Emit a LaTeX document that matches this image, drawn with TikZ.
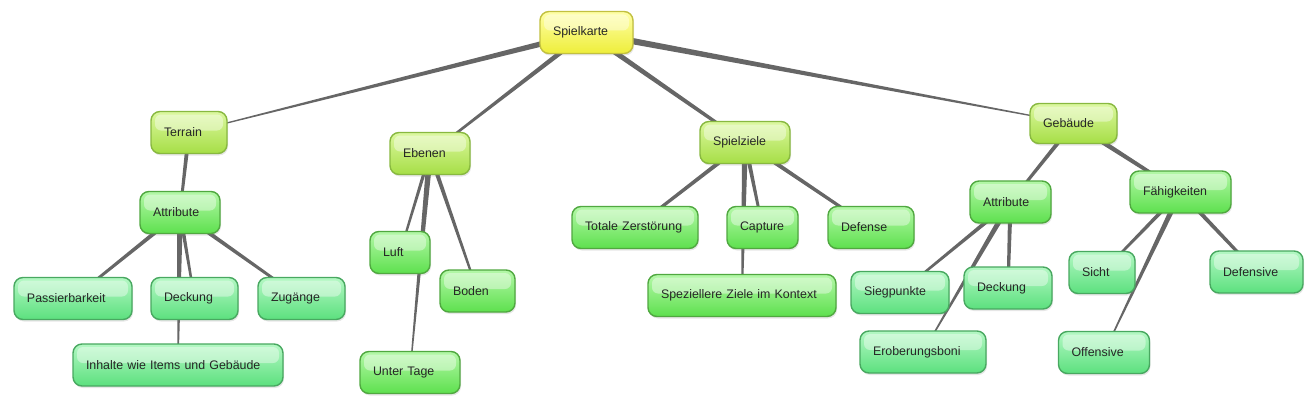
\documentclass[tikz,border=0pt]{standalone}
\usepackage{fontspec}
\setmainfont{Liberation Sans}
\usepackage{tikz}
\usetikzlibrary{calc,shadows,backgrounds}
\definecolor{roottop}{HTML}{FFFFA8}
\definecolor{rootbot}{HTML}{EEEE3A}
\definecolor{rootline}{HTML}{C2C040}
\definecolor{topictop}{HTML}{DCF8A0}
\definecolor{topicbot}{HTML}{A6DE46}
\definecolor{topicline}{HTML}{88B840}
\definecolor{subtop}{HTML}{B4F8A8}
\definecolor{subbot}{HTML}{5EE04E}
\definecolor{subline}{HTML}{50A840}
\definecolor{leaftop}{HTML}{B4F8C4}
\definecolor{leafbot}{HTML}{5CE07E}
\definecolor{leafline}{HTML}{48A860}
\definecolor{branchcol}{HTML}{666666}
\tikzstyle{base} = [rectangle, rounded corners=9pt, line width=1.4pt, minimum height=42pt, inner xsep=13pt, align=left, text=black!85, font=\fontsize{12.4}{14}\selectfont, drop shadow={shadow xshift=1pt, shadow yshift=-2pt, opacity=.2}, path picture={\fill[white, opacity=.4, rounded corners=6pt] ([xshift=4pt,yshift=-3pt]path picture bounding box.north west) rectangle ([xshift=-4pt,yshift=2pt]path picture bounding box.east);}]
\tikzstyle{root} = [base, draw=rootline, top color=roottop, bottom color=rootbot]
\tikzstyle{topic} = [base, draw=topicline, top color=topictop, bottom color=topicbot]
\tikzstyle{subtopic} = [base, draw=subline, top color=subtop, bottom color=subbot]
\tikzstyle{leaf} = [base, draw=leafline, top color=leaftop, bottom color=leafbot]
\newcommand{\branch}[4]{\fill[branchcol] ($(#1)!#3!90:(#2)$) -- ($(#2)!#4!-90:(#1)$) -- ($(#2)!#4!90:(#1)$) -- ($(#1)!#3!-90:(#2)$) -- cycle;}

\begin{document}
\begin{tikzpicture}[x=1pt, y=-1pt]
        \useasboundingbox (0,0) rectangle (1312,404);
        \node (spielkarte) [root, text width=67pt] at (586.5,32.5) {Spielkarte};

        \node (terrain) [topic, text width=50pt] at (189,132.5) {Terrain};
        \node (ebenen) [topic, text width=54pt] at (430,153.5) {Ebenen};
        \node (spielziele) [topic, text width=64pt] at (745,142.5) {Spielziele};
        \node (gebaeude) [topic, text width=61pt, minimum height=40pt] at (1073.5,123.5) {Gebäude};

        \node (attr-terrain) [subtopic, text width=54pt] at (180,212.5) {Attribute};
        \node (passierbarkeit) [leaf, text width=92pt] at (73,298.5) {Passierbarkeit};
        \node (deckung-terrain) [leaf, text width=61pt] at (194.5,298.5) {Deckung};
        \node (zugaenge) [leaf, text width=61pt] at (301.5,298.5) {Zugänge};
        \node (inhalte) [leaf, text width=184pt] at (178,365) {Inhalte wie Items und Gebäude};

        \node (luft) [subtopic, text width=34pt] at (400,252.5) {Luft};
        \node (boden) [subtopic, text width=49pt] at (477.5,291) {Boden};
        \node (untertage) [subtopic, text width=74pt] at (410,372.5) {Unter Tage};

        \node (totale) [subtopic, text width=100pt] at (635,227.5) {Totale Zerstörung};
        \node (capture) [subtopic, text width=45pt] at (762.5,227.5) {Capture};
        \node (defense) [subtopic, text width=60pt] at (871,227.5) {Defense};
        \node (speziell) [subtopic, text width=162pt] at (742,295.5) {Speziellere Ziele im Kontext};

        \node (attr-gebaeude) [subtopic, text width=55pt] at (1010.5,202) {Attribute};
        \node (faehigkeiten) [subtopic, text width=75pt] at (1180.5,192) {Fähigkeiten};
        \node (siegpunkte) [leaf, text width=72pt] at (900,292.5) {Siegpunkte};
        \node (deckung-gebaeude) [leaf, text width=62pt] at (1008,288) {Deckung};
        \node (eroberung) [leaf, text width=100pt] at (923,352) {Eroberungsboni};
        \node (sicht) [leaf, text width=40pt] at (1102,272.5) {Sicht};
        \node (defensive) [leaf, text width=67pt] at (1256.5,272) {Defensive};
        \node (offensive) [leaf, text width=65pt] at (1104,352.5) {Offensive};

        \begin{scope}[on background layer]
        \branch{spielkarte}{terrain}{3pt}{0.4pt}
        \branch{spielkarte}{ebenen}{2.6pt}{1pt}
        \branch{spielkarte}{spielziele}{2.8pt}{1.4pt}
        \branch{spielkarte}{gebaeude}{3.4pt}{0.4pt}
        \branch{terrain}{attr-terrain}{2.2pt}{1.2pt}
        \branch{attr-terrain}{passierbarkeit}{2.2pt}{1.2pt}
        \branch{attr-terrain}{inhalte}{3pt}{0.5pt}
        \branch{attr-terrain}{deckung-terrain}{2pt}{1pt}
        \branch{attr-terrain}{zugaenge}{2.2pt}{1.2pt}
        \branch{ebenen}{luft}{1.8pt}{1pt}
        \branch{ebenen}{untertage}{3pt}{0.5pt}
        \branch{ebenen}{boden}{2.2pt}{1pt}
        \branch{spielziele}{totale}{2.2pt}{1.4pt}
        \branch{spielziele}{speziell}{3pt}{0.8pt}
        \branch{spielziele}{capture}{2.2pt}{1.2pt}
        \branch{spielziele}{defense}{2.2pt}{1.4pt}
        \branch{gebaeude}{attr-gebaeude}{2.2pt}{1.3pt}
        \branch{gebaeude}{faehigkeiten}{2.6pt}{1.5pt}
        \branch{attr-gebaeude}{siegpunkte}{2.2pt}{1pt}
        \branch{attr-gebaeude}{eroberung}{2.8pt}{0.5pt}
        \branch{attr-gebaeude}{deckung-gebaeude}{2.2pt}{1.4pt}
        \branch{faehigkeiten}{sicht}{2.2pt}{1pt}
        \branch{faehigkeiten}{offensive}{2.8pt}{0.5pt}
        \branch{faehigkeiten}{defensive}{2.2pt}{1.4pt}
        \end{scope}
    \end{tikzpicture}
\end{document}
